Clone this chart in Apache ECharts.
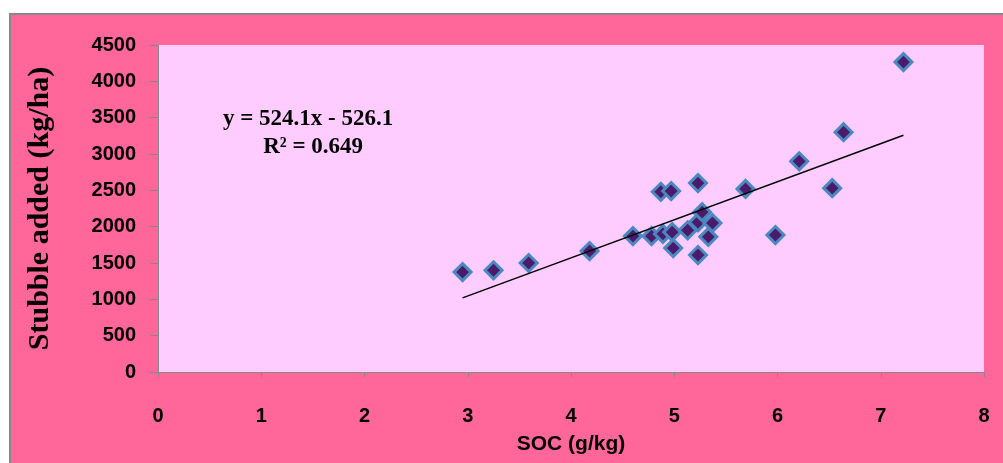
<!DOCTYPE html>
<html><head><meta charset="utf-8">
<script src="https://cdn.jsdelivr.net/npm/echarts@6/dist/echarts.min.js"></script>
<style>html,body{margin:0;padding:0;background:#fff}#main{width:1003px;height:463px}</style>
</head><body><div id="main"></div>
<script>
// SOC (g/kg) vs stubble added (kg/ha)
var socValues = [2.95, 3.25, 3.59, 4.18, 4.60, 4.78, 4.87, 4.89, 4.97, 4.98, 4.99, 5.13, 5.23, 5.23, 5.23, 5.27, 5.33, 5.37, 5.69, 5.98, 6.21, 6.53, 6.64, 7.22];
var stubbleValues = [1375, 1400, 1500, 1665, 1870, 1870, 2480, 1900, 2490, 1925, 1705, 1950, 2600, 2060, 1610, 2200, 1860, 2050, 2520, 1885, 2900, 2530, 3300, 4265];
var slope = 524.1, intercept = -526.1;
var trendX = [2.95, 7.22];

var chart = echarts.init(document.getElementById('main'));
var pts = socValues.map(function (x, i) { return [x, stubbleValues[i]]; });
var trend = trendX.map(function (x) { return [x, slope * x + intercept]; });
chart.setOption({
  backgroundColor: '#fff',
  graphic: [{ type: 'rect', shape: { x: 10, y: 14, width: 1000, height: 460 },
    style: { fill: '#ff6699', stroke: '#888', lineWidth: 2 }, z: -10 }],
  grid: { left: 158, right: 19, top: 45, bottom: 91, show: true, backgroundColor: '#ffccff', borderWidth: 0 },
  xAxis: {
    type: 'value', min: 0, max: 8, interval: 1,
    name: 'SOC (g/kg)', nameLocation: 'middle', nameGap: 62,
    nameTextStyle: { fontFamily: 'Liberation Sans', fontWeight: 'bold', fontSize: 21, color: '#000' },
    axisLine: { lineStyle: { color: '#888' } },
    axisTick: { show: true, length: 5, lineStyle: { color: '#888' } },
    axisLabel: { fontFamily: 'Liberation Sans', fontWeight: 'bold', fontSize: 20, color: '#000', margin: 34 },
    splitLine: { show: false }
  },
  yAxis: {
    type: 'value', min: 0, max: 4500, interval: 500,
    name: 'Stubble added (kg/ha)', nameLocation: 'middle', nameGap: 103,
    nameTextStyle: { fontFamily: 'Liberation Serif', fontWeight: 'bold', fontSize: 30, color: '#000' },
    axisLine: { show: true, lineStyle: { color: '#888' } },
    axisTick: { show: true, length: 8, lineStyle: { color: '#888' } },
    axisLabel: { fontFamily: 'Liberation Sans', fontWeight: 'bold', fontSize: 20, color: '#000', margin: 22,
      formatter: function (v) { return String(v); } },
    splitLine: { show: false }
  },
  series: [
    { type: 'scatter', data: pts, symbol: 'diamond', symbolSize: 17,
      itemStyle: { color: '#4b1a6b', borderColor: '#4a88c0', borderWidth: 3, opacity: 1 }, z: 3 },
    { type: 'line', data: trend, showSymbol: false, lineStyle: { color: '#000', width: 1.5 }, z: 4 }
  ],
  title: {
    text: 'y = 524.1x - 526.1\n       R² = 0.649', left: 218, top: 100,
    textStyle: { fontFamily: 'Liberation Serif', fontWeight: 'bold', fontSize: 23, color: '#000', lineHeight: 28 }
  }
});
</script></body></html>
